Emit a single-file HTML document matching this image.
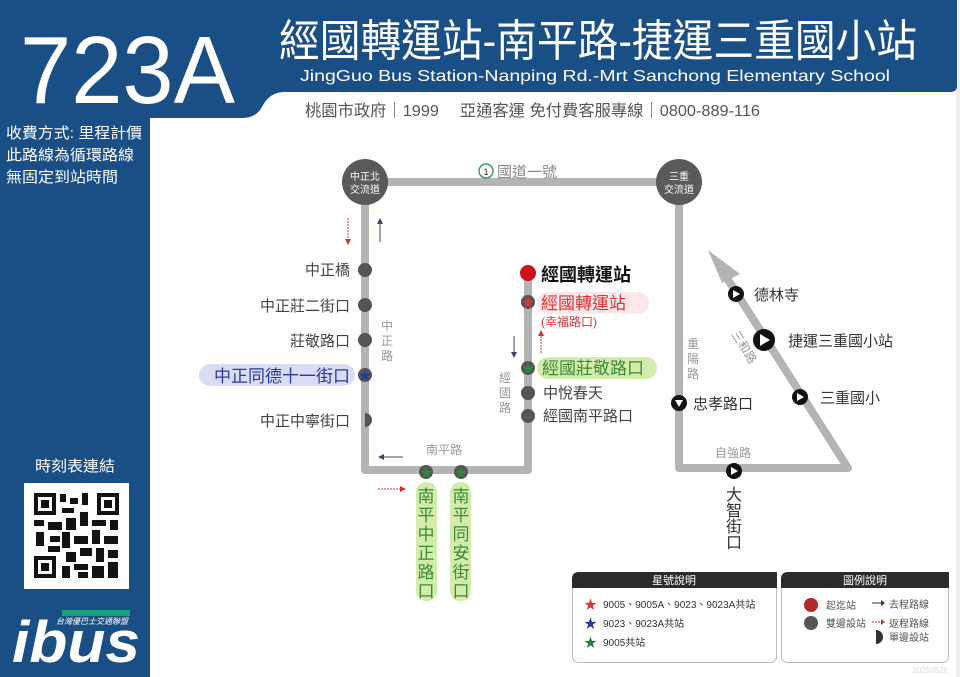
<!DOCTYPE html>
<html><head><meta charset="utf-8"><style>
html,body{margin:0;padding:0;background:#fff}
svg{display:block}
text{font-family:"Liberation Sans","Noto Sans CJK TC",sans-serif}
</style></head><body>
<svg width="960" height="677" viewBox="0 0 960 677" xmlns="http://www.w3.org/2000/svg">
<rect width="960" height="677" fill="#fff"/>
<rect x="956" y="0" width="4" height="677" fill="#eee"/>
<!-- header -->
<path d="M0 0 H957 V86 Q957 92 950 92 H285 Q272 92 265 102 L260 110 Q254 118 242 118 H150 V677 H0 Z" fill="#1a4f86"/>
<text x="20" y="103" font-size="96" fill="#fff" textLength="215" lengthAdjust="spacingAndGlyphs">723A</text>
<text x="279" y="56" font-size="44" fill="#fff" textLength="638" lengthAdjust="spacingAndGlyphs">經國轉運站-南平路-捷運三重國小站</text>
<text x="300" y="81" font-size="16" fill="#fff" textLength="590" lengthAdjust="spacingAndGlyphs">JingGuo Bus Station-Nanping Rd.-Mrt Sanchong Elementary School</text>
<text x="305" y="116" font-size="16" fill="#555" textLength="455" lengthAdjust="spacingAndGlyphs">桃園市政府｜1999　  亞通客運 免付費客服專線｜0800-889-116</text>
<g font-size="15" fill="#fff">
<text x="6" y="138" textLength="136" lengthAdjust="spacingAndGlyphs">收費方式: 里程計價</text>
<text x="6" y="160" textLength="128" lengthAdjust="spacingAndGlyphs">此路線為循環路線</text>
<text x="6" y="182" textLength="112" lengthAdjust="spacingAndGlyphs">無固定到站時間</text>
<text x="35" y="471" textLength="80" lengthAdjust="spacingAndGlyphs">時刻表連結</text>
</g>
<!-- QR -->
<rect x="24" y="483" width="105" height="106" fill="#fff"/>
<g fill="#111">
<rect x="34" y="493" width="22" height="22"/><rect x="38" y="497" width="14" height="14" fill="#fff"/><rect x="41" y="500" width="8" height="8"/>
<rect x="97" y="493" width="22" height="22"/><rect x="101" y="497" width="14" height="14" fill="#fff"/><rect x="104" y="500" width="8" height="8"/>
<rect x="34" y="556" width="22" height="22"/><rect x="38" y="560" width="14" height="14" fill="#fff"/><rect x="41" y="563" width="8" height="8"/>
<rect x="60" y="494" width="6" height="8"/><rect x="70" y="498" width="8" height="6"/><rect x="82" y="493" width="6" height="12"/><rect x="62" y="508" width="12" height="5"/>
<rect x="34" y="520" width="10" height="6"/><rect x="48" y="522" width="14" height="8"/><rect x="66" y="518" width="10" height="12"/><rect x="80" y="512" width="8" height="14"/><rect x="92" y="520" width="14" height="6"/><rect x="110" y="520" width="8" height="10"/>
<rect x="36" y="532" width="8" height="14"/><rect x="50" y="536" width="10" height="6"/><rect x="62" y="532" width="8" height="16"/><rect x="74" y="536" width="14" height="8"/><rect x="92" y="530" width="8" height="14"/><rect x="104" y="536" width="14" height="8"/>
<rect x="48" y="546" width="12" height="6"/><rect x="66" y="552" width="10" height="10"/><rect x="80" y="548" width="12" height="8"/><rect x="96" y="548" width="8" height="14"/><rect x="108" y="550" width="10" height="8"/>
<rect x="62" y="566" width="8" height="12"/><rect x="74" y="564" width="14" height="6"/><rect x="78" y="572" width="10" height="6"/><rect x="92" y="566" width="12" height="12"/><rect x="108" y="562" width="10" height="16"/>
</g>
<!-- ibus logo -->
<text x="12" y="662" font-size="58" font-weight="bold" font-style="italic" fill="#fff" textLength="128" lengthAdjust="spacingAndGlyphs">ibus</text>
<rect x="62" y="610" width="68" height="6" fill="#1aa37a"/>
<text x="56" y="624" font-size="8" fill="#fff" font-style="italic">台灣優巴士交通聯盟</text>

<!-- route lines -->
<g fill="none" stroke="#b4b4b4" stroke-width="8" stroke-linejoin="round" stroke-linecap="round">
<path d="M365 182 V470 H528 V275"/>
<path d="M365 182 H679"/>
<path d="M679 182 V468 H848 L725 275"/>
</g>
<path d="M708 250 L740 274 L722 283 Z" fill="#b4b4b4"/>
<!-- interchange circles -->
<circle cx="365" cy="182" r="23" fill="#5a5a5a"/>
<circle cx="679" cy="182" r="23" fill="#5a5a5a"/>
<g font-size="10" fill="#fff" text-anchor="middle">
<text x="365" y="180">中正北</text><text x="365" y="193">交流道</text>
<text x="679" y="180">三重</text><text x="679" y="193">交流道</text>
</g>
<circle cx="486" cy="171" r="7" fill="none" stroke="#3a9a6a" stroke-width="1.5"/>
<text x="486" y="175" font-size="9" text-anchor="middle" fill="#222">1</text>
<text x="497" y="177" font-size="15" fill="#888">國道一號</text>

<!-- arrows -->
<line x1="348" y1="218" x2="348" y2="240" stroke="#c33" stroke-dasharray="2,1"/><path d="M345 239 L348 245 L351 239Z" fill="#c33"/>
<line x1="380" y1="222" x2="380" y2="242" stroke="#446"/><path d="M377 224 L380 218 L383 224Z" fill="#446"/>
<line x1="514" y1="336" x2="514" y2="354" stroke="#446"/><path d="M511 352 L514 358 L517 352Z" fill="#446"/>
<line x1="541" y1="336" x2="541" y2="354" stroke="#c33" stroke-dasharray="2,1"/><path d="M538 336 L541 330 L544 336Z" fill="#c33"/>
<line x1="382" y1="457" x2="403" y2="457" stroke="#446"/><path d="M384 454 L378 457 L384 460Z" fill="#446"/>
<line x1="378" y1="489" x2="400" y2="489" stroke="#c33" stroke-dasharray="2,1"/><path d="M400 486 L406 489 L400 492Z" fill="#c33"/>

<!-- left stops -->
<g fill="#555"><circle cx="365" cy="270" r="7"/><circle cx="365" cy="305" r="7"/><circle cx="365" cy="340" r="7"/>
<path d="M365 413 A7 7 0 0 1 365 427 Z"/></g>
<g font-size="15" fill="#444" text-anchor="end">
<text x="350" y="275">中正橋</text><text x="350" y="311">中正莊二街口</text><text x="350" y="346">莊敬路口</text><text x="350" y="426">中正中寧街口</text>
</g>
<rect x="199" y="364" width="156" height="22" rx="11" fill="#d8dcf4"/>
<text x="350" y="382" font-size="17" fill="#2a3a9a" text-anchor="end">中正同德十一街口</text>
<circle cx="365" cy="375" r="7" fill="#555"/><text x="365" y="380" font-size="13" fill="#223d99" text-anchor="middle">★</text>
<g font-size="12" fill="#999" text-anchor="middle"><text x="387" y="330">中</text><text x="387" y="345">正</text><text x="387" y="360">路</text>
<text x="505" y="382">經</text><text x="505" y="397">國</text><text x="505" y="412">路</text>
<text x="444" y="454">南平路</text>
<text x="693" y="348">重</text><text x="693" y="363">陽</text><text x="693" y="378">路</text>
<text x="733" y="457">自強路</text></g>
<text x="731" y="334" font-size="12" fill="#999" transform="rotate(58 731 334)">三和路</text>

<!-- Jingguo line stops -->
<circle cx="528" cy="273" r="8" fill="#d0101a"/>
<text x="541" y="281" font-size="18" font-weight="bold" fill="#111">經國轉運站</text>
<circle cx="528" cy="302" r="7" fill="#555"/><text x="528" y="307" font-size="13" fill="#d33" text-anchor="middle">★</text>
<rect x="537" y="292" width="112" height="22" rx="11" fill="#fbe8ea"/>
<text x="541" y="309" font-size="17" fill="#d33">經國轉運站</text>
<text x="541" y="326" font-size="12" fill="#d33">(幸福路口)</text>
<rect x="537" y="357" width="120" height="22" rx="11" fill="#d4ecaa"/>
<text x="542" y="374" font-size="17" fill="#3a8a3a">經國莊敬路口</text>
<circle cx="528" cy="368" r="7" fill="#555"/><text x="528" y="373" font-size="13" fill="#2a8a3a" text-anchor="middle">★</text>
<circle cx="528" cy="393" r="7" fill="#555"/><circle cx="528" cy="416" r="7" fill="#555"/>
<text x="543" y="398" font-size="15" fill="#444">中悅春天</text>
<text x="543" y="421" font-size="15" fill="#444">經國南平路口</text>

<!-- Nanping stops -->
<rect x="416" y="482" width="21" height="119" rx="10" fill="#d4ecaa"/>
<rect x="450" y="482" width="21" height="119" rx="10" fill="#d4ecaa"/>
<circle cx="426" cy="472" r="7" fill="#555"/><text x="426" y="477" font-size="13" fill="#2a8a3a" text-anchor="middle">★</text>
<circle cx="461" cy="472" r="7" fill="#555"/><text x="461" y="477" font-size="13" fill="#2a8a3a" text-anchor="middle">★</text>
<g font-size="17" fill="#3a8a3a" text-anchor="middle">
<text x="426" y="502">南</text><text x="426" y="521">平</text><text x="426" y="540">中</text><text x="426" y="559">正</text><text x="426" y="578">路</text><text x="426" y="597">口</text>
<text x="461" y="502">南</text><text x="461" y="521">平</text><text x="461" y="540">同</text><text x="461" y="559">安</text><text x="461" y="578">街</text><text x="461" y="597">口</text>
</g>

<!-- right stops -->
<g fill="#111">
<circle cx="679" cy="403" r="8"/><circle cx="734" cy="471" r="8"/><circle cx="736" cy="294" r="8"/><circle cx="764" cy="340" r="11"/><circle cx="800" cy="397" r="8"/>
</g>
<g fill="#fff">
<path d="M675 400 L683 400 L679 407Z"/>
<path d="M731 467 L738 471 L731 475Z"/><path d="M733 290 L740 294 L733 298Z"/><path d="M760 334 L770 340 L760 346Z"/><path d="M797 393 L804 397 L797 401Z"/>
</g>
<g font-size="15" fill="#333">
<text x="693" y="409">忠孝路口</text><text x="754" y="300">德林寺</text><text x="788" y="346">捷運三重國小站</text><text x="820" y="403">三重國小</text>
</g>
<g font-size="16" fill="#333" text-anchor="middle"><text x="734" y="500">大</text><text x="734" y="516">智</text><text x="734" y="532">街</text><text x="734" y="548">口</text></g>

<!-- legends -->
<rect x="572.5" y="572.5" width="204" height="90" rx="6" fill="#fff" stroke="#bbb"/>
<path d="M572 579 Q572 572 579 572 H777 V588 H572 Z" fill="#2b2b2b"/>
<text x="674" y="584" font-size="11" fill="#fff" text-anchor="middle">星號說明</text>
<g font-size="10" fill="#333"><text x="584" y="609" fill="#d33" font-size="13">★</text><text x="603" y="608">9005、9005A、9023、9023A共站</text>
<text x="584" y="628" fill="#223d99" font-size="13">★</text><text x="603" y="627">9023、9023A共站</text>
<text x="584" y="647" fill="#2a7a3a" font-size="13">★</text><text x="603" y="646">9005共站</text></g>
<rect x="781.5" y="572.5" width="167" height="90" rx="6" fill="#fff" stroke="#bbb"/>
<path d="M781 579 Q781 572 788 572 H949 V588 H781 Z" fill="#2b2b2b"/>
<text x="865" y="584" font-size="11" fill="#fff" text-anchor="middle">圖例說明</text>
<circle cx="811" cy="605" r="7" fill="#b22a2a"/><circle cx="811" cy="623" r="7" fill="#555"/>
<path d="M876 630 A7 7 0 0 1 876 644 Z" fill="#333"/>
<g font-size="10" fill="#555"><text x="826" y="609">起迄站</text><text x="826" y="627">雙邊設站</text>
<text x="889" y="608">去程路線</text><text x="889" y="627">返程路線</text><text x="889" y="641">單邊設站</text></g>
<line x1="872" y1="603" x2="883" y2="603" stroke="#334"/><path d="M881 600 L885 603 L881 606Z" fill="#334"/>
<line x1="872" y1="622" x2="883" y2="622" stroke="#c33" stroke-dasharray="2,1"/><path d="M881 619 L885 622 L881 625Z" fill="#c33"/>
<text x="948" y="673" font-size="8" fill="#ddd" text-anchor="end">20250526</text>
</svg>
</body></html>
